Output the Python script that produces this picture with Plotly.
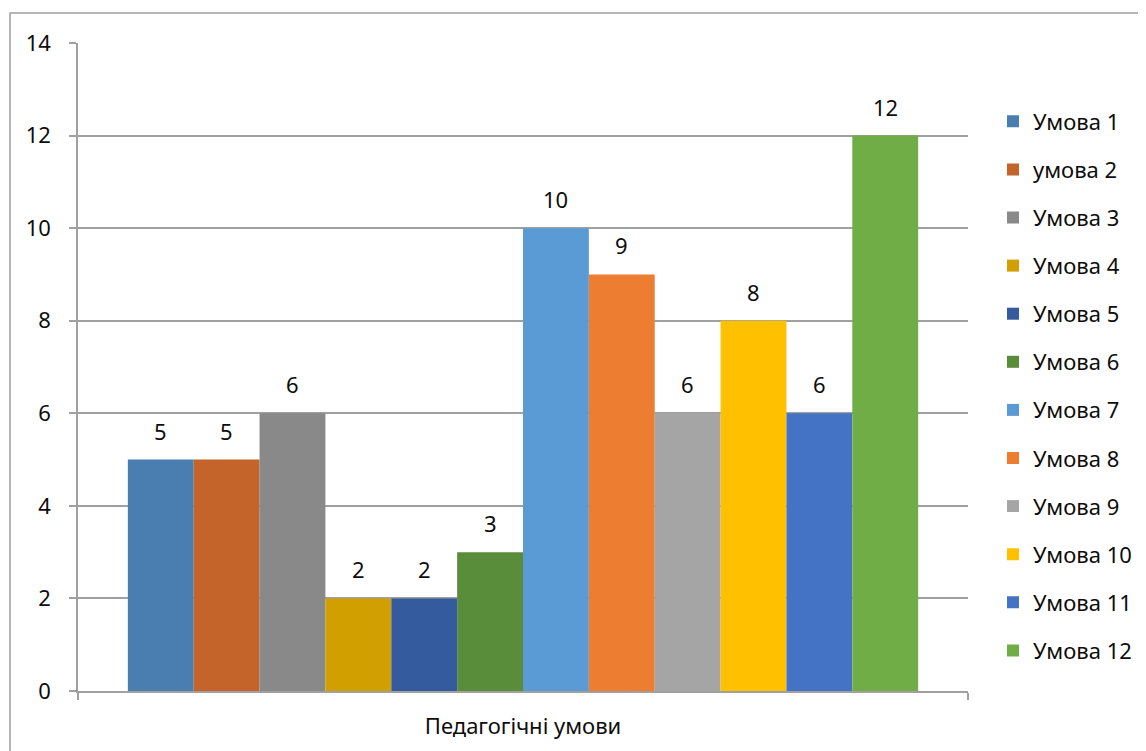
import plotly.graph_objects as go

category = ["Педагогічні умови"]
series_names = ["Умова 1", "умова 2", "Умова 3", "Умова 4", "Умова 5", "Умова 6",
                "Умова 7", "Умова 8", "Умова 9", "Умова 10", "Умова 11", "Умова 12"]
values = [5, 5, 6, 2, 2, 3, 10, 9, 6, 8, 6, 12]
colors = ["#4A7EB0", "#C4632A", "#898989", "#D29F00", "#345B9E", "#5A8D3A",
          "#5B9BD5", "#ED7D31", "#A5A5A5", "#FFC000", "#4472C4", "#70AD47"]
y_ticks = [0, 2, 4, 6, 8, 10, 12, 14]

FONT = "Noto Sans"
TXT = "#0d0d0d"
FS = 22
BARGAP = 0.112

fig = go.Figure()
for i, (name, v, c) in enumerate(zip(series_names, values, colors)):
    fig.add_trace(go.Bar(
        x=category, y=[v], name=name, marker=dict(color=c, line=dict(width=0)),
        legendgroup=f"g{i}",
    ))

# data labels positioned in data coordinates of each bar's slot
n = len(values)
slot = (1 - BARGAP) / n
annotations = []
for i, v in enumerate(values):
    annotations.append(dict(
        x=-(1 - BARGAP) / 2 + (i + 0.5) * slot, y=v, xref="x", yref="y",
        text=str(v), showarrow=False, yanchor="bottom", yshift=12,
        font=dict(family=FONT, size=FS, color=TXT),
    ))

W, H = 1146, 751
L, R, T, B = 70, 186, 35, 68
pw, ph = W - L - R, H - T - B

fig.update_layout(
    width=W, height=H,
    margin=dict(l=L, r=R, t=T, b=B),
    paper_bgcolor="white", plot_bgcolor="white",
    barmode="group", bargap=BARGAP, bargroupgap=0,
    font=dict(family=FONT, size=FS, color=TXT),
    annotations=annotations,
    legend=dict(
        x=(985 - L) / pw, xanchor="left",
        y=(H - B - 378) / ph, yanchor="middle",
        font=dict(family=FONT, size=FS, color=TXT),
        tracegroupgap=16.5, traceorder="grouped",
        bgcolor="rgba(0,0,0,0)",
    ),
    xaxis=dict(
        showgrid=False, showline=True, linecolor="#A0A0A0", linewidth=1.5,
        ticks="outside", tickson="boundaries", ticklen=7, tickcolor="#A0A0A0",
        tickwidth=1.5, ticklabelstandoff=15,
        tickfont=dict(family=FONT, size=FS, color=TXT),
    ),
    yaxis=dict(
        range=[0, 14], tickvals=y_ticks, showgrid=True, gridcolor="#A0A0A0",
        gridwidth=1.5, showline=True, linecolor="#A0A0A0", linewidth=1.5,
        ticks="outside", ticklen=7, tickcolor="#A0A0A0", tickwidth=1.5,
        ticklabelstandoff=14, zeroline=False,
        tickfont=dict(family=FONT, size=FS, color=TXT),
    ),
    shapes=[dict(
        type="rect", xref="paper", yref="paper",
        x0=(2 - L) / pw, x1=(W + 20 - L) / pw,
        y0=-(H + 20 - T - ph) / ph, y1=(H - B - 5) / ph,
        line=dict(color="#A0A0A0", width=1.5), fillcolor="rgba(0,0,0,0)",
        layer="below",
    )],
)

fig.write_html("out.html")
